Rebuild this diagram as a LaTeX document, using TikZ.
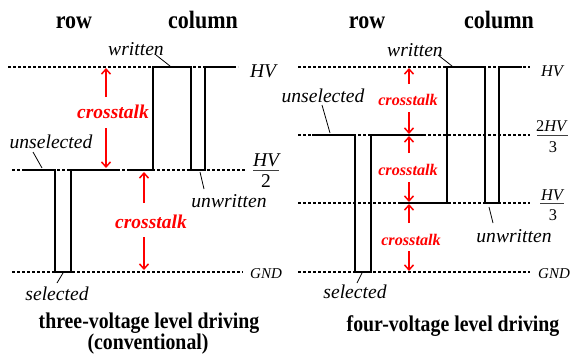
\documentclass[tikz,border=0pt]{standalone}
\usepackage{fontspec}
\IfFontExistsTF{LiberationSerif-Regular.ttf}{%
  \setmainfont{LiberationSerif-Regular.ttf}[BoldFont=LiberationSerif-Bold.ttf,ItalicFont=LiberationSerif-Italic.ttf,BoldItalicFont=LiberationSerif-BoldItalic.ttf]%
  \newfontfamily\tfont{LiberationSerif-Regular.ttf}[FakeStretch=0.88,BoldFont=LiberationSerif-Bold.ttf,ItalicFont=LiberationSerif-Italic.ttf,BoldItalicFont=LiberationSerif-BoldItalic.ttf]%
}{%
  \setmainfont{Liberation Serif}%
  \newfontfamily\tfont[FakeStretch=0.88]{Liberation Serif}%
}
\usetikzlibrary{arrows.meta}
\tikzset{
  sig/.style={line width=2.8pt, line join=miter, line cap=butt},
  lvl/.style={line width=1.2pt, dash pattern=on 3pt off 2pt},
  lead/.style={line width=0.8pt},
  xt/.style={red, line width=1.5pt, -{Straight Barb[length=5pt,width=9pt]}},
  lab/.style={inner sep=0pt, anchor=base, font=\fontsize{19.6}{20}\selectfont\itshape},
  ttl/.style={inner sep=0pt, anchor=base, font=\fontsize{25}{26}\selectfont\tfont\bfseries},
  btl/.style={inner sep=0pt, anchor=base, font=\fontsize{22.5}{24}\selectfont\tfont\bfseries},
  ctL/.style={inner sep=0pt, anchor=base, red, font=\fontsize{19.5}{20}\selectfont\bfseries\itshape},
  ctR/.style={inner sep=0pt, anchor=base, red, font=\fontsize{16.2}{17}\selectfont\bfseries\itshape},
  vL/.style={inner sep=0pt, anchor=base, font=\fontsize{19.5}{20}\selectfont\itshape},
  vR/.style={inner sep=0pt, anchor=base, font=\fontsize{16.4}{17}\selectfont\itshape},
  nR/.style={inner sep=0pt, anchor=base, font=\fontsize{16.4}{17}\selectfont},
  gnd/.style={inner sep=0pt, anchor=base, font=\fontsize{15}{16}\selectfont\itshape},
  bar/.style={line width=0.9pt, black!75}
}
\begin{document}
\begin{tikzpicture}[x=1pt,y=-1pt]
\useasboundingbox (0,0) rectangle (572,354);
% ---------------- left panel ----------------
\node[ttl] (rowL) at (74,28) {row};
\node[ttl] (colL) at (203,28) {column};
\coordinate (lh1) at (8,67);   \coordinate (lh2) at (238,67);
\coordinate (lm1) at (12,170); \coordinate (lm2) at (245,170);
\coordinate (lg1) at (12,272); \coordinate (lg2) at (243,272);
\draw[lvl] (lh1) -- (lh2);
\draw[lvl] (lm1) -- (lm2);
\draw[lvl] (lg1) -- (lg2);
\draw[sig] (22,170) -- (55,170) -- (55,272) -- (71,272) -- (71,170) -- (118,170);
\draw[sig] (130,170) -- (153,170) -- (153,67) -- (191,67) -- (191,170) -- (205,170) -- (205,67) -- (233,67);
% level labels
\node[vL] (hvL) at (263,77) {HV};
\node[vL] (hv2n) at (266,166) {HV};
\node[vL,font=\fontsize{19.5}{20}\selectfont] (hv2d) at (266,187) {2};
\coordinate (b1a) at (253,170); \coordinate (b1b) at (279,170);
\draw[bar] (b1a) -- (b1b);
\node[gnd] (gndL) at (266,278) {GND};
% crosstalk arrows
\node[ctL] (ct1) at (113,118) {crosstalk};
\coordinate (a1s) at (106,97);  \coordinate (a1e) at (106,68);
\coordinate (a2s) at (106,128); \coordinate (a2e) at (106,168);
\draw[xt] (a1s) -- (a1e);
\draw[xt] (a2s) -- (a2e);
\node[ctL] (ct2) at (151,228) {crosstalk};
\coordinate (a3s) at (144,203); \coordinate (a3e) at (144,172);
\coordinate (a4s) at (144,237); \coordinate (a4e) at (144,270);
\draw[xt] (a3s) -- (a3e);
\draw[xt] (a4s) -- (a4e);
% annotations
\node[lab] (wrL) at (136,55) {written};
\coordinate (wrL1) at (156,55); \coordinate (wrL2) at (170,66);
\draw[lead] (wrL1) -- (wrL2);
\node[lab] (unsL) at (51,148) {unselected};
\coordinate (unsL1) at (33,152); \coordinate (unsL2) at (42,168);
\draw[lead] (unsL1) -- (unsL2);
\node[lab] (unwL) at (229,207) {unwritten};
\coordinate (unwL1) at (200,172); \coordinate (unwL2) at (204,189);
\draw[lead] (unwL1) -- (unwL2);
\node[lab] (selL) at (57,300) {selected};
\coordinate (selL1) at (63,273); \coordinate (selL2) at (57,283);
\draw[lead] (selL1) -- (selL2);
\node[btl] (t1) at (149,328) {three-voltage level driving};
\node[btl] (t2) at (148,349) {(conventional)};
% ---------------- right panel ----------------
\node[ttl] (rowR) at (367,28) {row};
\node[ttl] (colR) at (499,28) {column};
\coordinate (rh1) at (298,67);  \coordinate (rh2) at (530,67);
\coordinate (r2a) at (298,135); \coordinate (r2b) at (530,135);
\coordinate (r1a) at (298,203); \coordinate (r1b) at (530,203);
\coordinate (rg1) at (298,272); \coordinate (rg2) at (530,272);
\draw[lvl] (rh1) -- (rh2);
\draw[lvl] (r2a) -- (r2b);
\draw[lvl] (r1a) -- (r1b);
\draw[lvl] (rg1) -- (rg2);
\draw[sig] (312,135) -- (355,135) -- (355,272) -- (371,272) -- (371,135) -- (423,135);
\draw[sig] (400,203) -- (447,203) -- (447,67) -- (485,67) -- (485,203) -- (499,203) -- (499,67) -- (522,67);
% level labels
\node[vR] (hvR) at (552,76) {HV};
\node[nR] (f1n) at (552,131) {2\textit{HV}};
\node[nR] (f1d) at (553,152) {3};
\coordinate (b2a) at (537,135); \coordinate (b2b) at (568,135);
\draw[bar] (b2a) -- (b2b);
\node[vR] (f2n) at (552,200) {HV};
\node[nR] (f2d) at (553,220) {3};
\coordinate (b3a) at (540,203); \coordinate (b3b) at (564,203);
\draw[bar] (b3a) -- (b3b);
\node[gnd] (gndR) at (554,278) {GND};
% crosstalk arrows
\node[ctR] (ct3) at (408,105) {crosstalk};
\coordinate (c1s) at (409,84);  \coordinate (c1e) at (409,68);
\coordinate (c2s) at (409,112); \coordinate (c2e) at (409,134);
\draw[xt] (c1s) -- (c1e);
\draw[xt] (c2s) -- (c2e);
\node[ctR] (ct4) at (408,175) {crosstalk};
\coordinate (c3s) at (409,153); \coordinate (c3e) at (409,136);
\coordinate (c4s) at (409,182); \coordinate (c4e) at (409,202);
\draw[xt] (c3s) -- (c3e);
\draw[xt] (c4s) -- (c4e);
\node[ctR] (ct5) at (411,245) {crosstalk};
\coordinate (c5s) at (409,223); \coordinate (c5e) at (409,204);
\coordinate (c6s) at (409,251); \coordinate (c6e) at (409,271);
\draw[xt] (c5s) -- (c5e);
\draw[xt] (c6s) -- (c6e);
% annotations
\node[lab] (wrR) at (415,56) {written};
\coordinate (wrR1) at (438,55); \coordinate (wrR2) at (452,66);
\draw[lead] (wrR1) -- (wrR2);
\node[lab] (unsR) at (323,102) {unselected};
\coordinate (unsR1) at (322,105); \coordinate (unsR2) at (330,133);
\draw[lead] (unsR1) -- (unsR2);
\node[lab] (unwR) at (514,242) {unwritten};
\coordinate (unwR1) at (489,207); \coordinate (unwR2) at (493,223);
\draw[lead] (unwR1) -- (unwR2);
\node[lab] (selR) at (355,298) {selected};
\coordinate (selR1) at (362,273); \coordinate (selR2) at (357,283);
\draw[lead] (selR1) -- (selR2);
\node[btl] (t3) at (453,331) {four-voltage level driving};
\end{tikzpicture}
\end{document}
